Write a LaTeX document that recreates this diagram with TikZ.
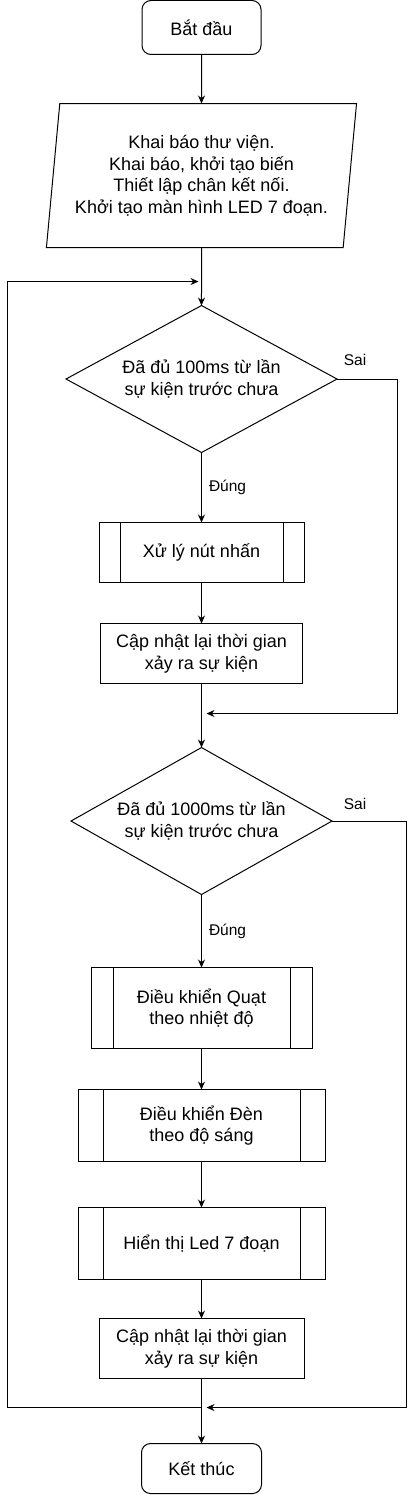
\documentclass[tikz,border=0pt]{standalone}
\usepackage{fontspec}
\setmainfont{Liberation Sans}
\usetikzlibrary{positioning, shapes.geometric, arrows.meta}
\tikzset{
	startstop/.style = {rectangle, rounded corners = 9pt, minimum width = 119pt, minimum height = 54pt, text centered, draw = black, line width = 1pt, outer sep = 0pt},
	io/.style = {trapezium, trapezium left angle = 82, trapezium right angle = 98, trapezium stretches = true, minimum width = 311pt, minimum height = 144pt, align = center, draw = black, line width = 1pt, outer sep = 0pt},
	ids/.style = {diamond, aspect = 1.8, minimum width = 271pt, minimum height = 147pt, inner sep = 0pt, align = center, draw = black, line width = 1pt, outer sep = 0pt},
	res/.style = {rectangle, minimum width = 205pt, minimum height = 60pt, align = center, draw = black, line width = 1pt, outer sep = 0pt},
	subres/.style = {res, path picture = {
		\draw [line width = 1pt] ([xshift = #1]path picture bounding box.north west) -- ([xshift = #1]path picture bounding box.south west);
		\draw [line width = 1pt] ([xshift = -#1]path picture bounding box.north east) -- ([xshift = -#1]path picture bounding box.south east);}},
	subres/.default = 22pt,
	lbl/.style = {font = \fontsize{15.5}{18}\selectfont, inner sep = 0pt},
	arrow/.style = {-{Stealth[length = 8pt, width = 7pt]}, draw = black, line width = 1pt}
}

\begin{document}
\begin{tikzpicture}[x = 1pt, y = 1pt, font = \fontsize{18}{21.5}\selectfont]
	\useasboundingbox (0,0) rectangle (415,-1495);
	
	%% nodes
	\node (start) [startstop] at (201.5,-27.5) {Bắt đầu};
	\node (init) [io, below = 49pt of start] {Khai báo thư viện.\\ Khai báo, khởi tạo biến\\ Thiết lập chân kết nối.\\ Khởi tạo màn hình LED 7 đoạn.};
	\node (chk1) [ids, below = 58pt of init] {Đã đủ 100ms từ lần\\ sự kiện trước chưa};
	\node (btn) [subres = 21pt, below = 70pt of chk1] {Xử lý nút nhấn};
	\node (upd1) [res, minimum width = 202pt, below = 41pt of btn] {Cập nhật lại thời gian\\ xảy ra sự kiện};
	\node (chk2) [ids, minimum width = 261pt, below = 64pt of upd1] {Đã đủ 1000ms từ lần\\ sự kiện trước chưa};
	\node (fan) [subres = 22pt, minimum width = 221pt, minimum height = 81pt, below = 73pt of chk2] {Điều khiển Quạt\\ theo nhiệt độ};
	\node (lamp) [subres = 25pt, minimum width = 247pt, minimum height = 72pt, below = 41pt of fan] {Điều khiển Đèn\\ theo độ sáng};
	\node (led) [subres = 25pt, minimum width = 247pt, minimum height = 72pt, below = 46pt of lamp] {Hiển thị Led 7 đoạn};
	\node (upd2) [res, below = 39pt of led] {Cập nhật lại thời gian\\ xảy ra sự kiện};
	\node (stop) [startstop, minimum width = 120pt, minimum height = 50pt, below = 65pt of upd2] {Kết thúc};
	
	%% labels
	\node (sai1) [lbl] at ([xshift = 18pt, yshift = 19pt]chk1.east) {Sai};
	\node (sai2) [lbl] at ([xshift = 23pt, yshift = 17pt]chk2.east) {Sai};
	
	%% join points
	\coordinate (j1) at ([yshift = 24pt]chk1.north);
	\coordinate (j2) at ([yshift = -30pt]upd1.south);
	\coordinate (j3) at ([yshift = -29pt]upd2.south);
	\coordinate (lft) at ([xshift = -194.5pt]j3);
	\coordinate (r1) at ([xshift = 60pt]chk1.east);
	\coordinate (r2) at ([xshift = 74pt]chk2.east);
	
	%% arrows
	\draw [arrow] (start) -- (init);
	\draw [arrow] (init) -- (chk1);
	\draw [arrow] (chk1) -- node (yes1) [lbl, right = 7pt] {Đúng} (btn);
	\draw [arrow] (btn) -- (upd1);
	\draw [arrow] (upd1) -- (chk2);
	\draw [arrow] (chk2) -- node (yes2) [lbl, right = 7pt] {Đúng} (fan);
	\draw [arrow] (fan) -- (lamp);
	\draw [arrow] (lamp) -- (led);
	\draw [arrow] (led) -- (upd2);
	\draw [arrow] (upd2) -- (stop);
	
	%% back lines
	\draw [arrow, shorten > = 5pt] (chk1.east) -- (r1) |- (j2);
	\draw [arrow, shorten > = 5pt] (chk2.east) -- (r2) |- (j3);
	\draw [arrow, shorten > = 3pt] (j3) -- (lft) |- (j1);
\end{tikzpicture}
\end{document}
